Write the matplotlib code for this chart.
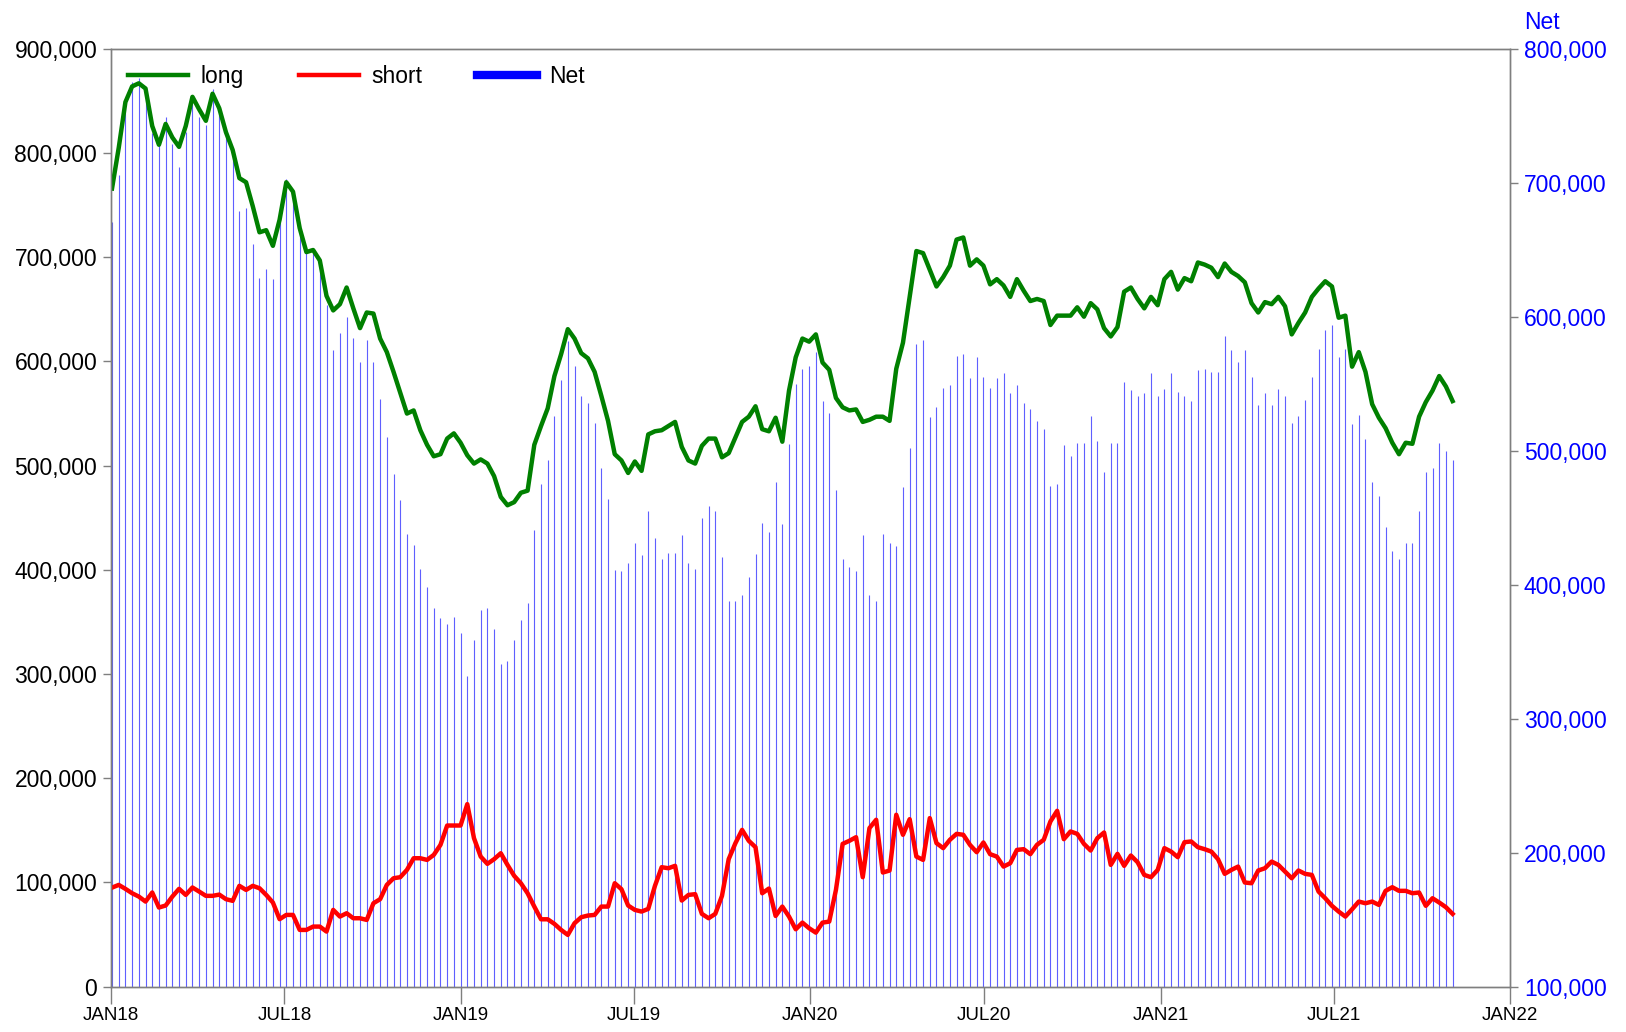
import matplotlib
matplotlib.use("Agg")
import matplotlib.pyplot as plt
import matplotlib.dates as mdates
from matplotlib.lines import Line2D
from matplotlib.ticker import FuncFormatter, FixedLocator
import numpy as np
import pandas as pd

plt.rcParams['font.family'] = ['Liberation Sans', 'DejaVu Sans']

# weekly report dates (Tuesdays)
start_date = "2018-01-02"
n_weeks = 201
dates = pd.date_range(start_date, periods=n_weeks, freq="7D")

# values in thousands of contracts
long_k = [
    766, 805, 849, 864, 867, 862, 826, 808, 828, 815,
    806, 826, 854, 842, 831, 857, 843, 820, 803, 776,
    772, 749, 724, 726, 711, 736, 772, 763, 728, 705,
    707, 697, 663, 649, 655, 671, 651, 632, 647, 646,
    622, 609, 590, 570, 550, 553, 534, 520, 509, 511,
    526, 531, 522, 510, 502, 506, 502, 490, 470, 462,
    465, 474, 476, 520, 538, 555, 586, 607, 631, 622,
    608, 603, 590, 567, 543, 511, 505, 493, 504, 495,
    530, 533, 534, 538, 542, 518, 505, 502, 519, 526,
    526, 508, 512, 527, 542, 547, 557, 535, 533, 546,
    523, 572, 604, 622, 619, 626, 599, 592, 565, 556,
    553, 554, 542, 544, 547, 547, 543, 593, 618, 662,
    706, 704, 688, 672, 681, 692, 717, 719, 692, 698,
    692, 674, 679, 673, 662, 679, 668, 658, 660, 658,
    635, 644, 644, 644, 652, 643, 656, 650, 632, 624,
    633, 667, 671, 660, 651, 662, 654, 679, 686, 669,
    680, 677, 695, 693, 690, 681, 694, 686, 682, 676,
    656, 647, 657, 655, 662, 653, 626, 637, 647, 662,
    670, 677, 672, 642, 644, 595, 609, 590, 559, 546,
    536, 522, 511, 522, 521, 547, 561, 572, 586, 576,
    562,
]

short_k = [
    95.0, 97.6, 93.8, 89.6, 86.4, 81.6, 90.3, 75.9, 77.8, 86.4,
    93.8, 88.0, 95.1, 91.2, 87.1, 87.1, 88.3, 83.9, 82.3, 96.7,
    92.8, 96.7, 94.4, 88.0, 80.7, 64.7, 68.8, 68.8, 54.4, 54.4,
    57.6, 57.6, 52.8, 73.6, 67.2, 70.4, 65.6, 65.6, 64.0, 80.0,
    83.9, 97.6, 104.0, 105.0, 112.0, 123.2, 123.2, 121.6, 126.4, 136.0,
    154.6, 154.6, 154.6, 175.1, 142.5, 124.8, 117.8, 122.3, 128.0, 116.8,
    106.3, 99.2, 89.6, 76.8, 64.6, 64.6, 60.2, 54.4, 49.6, 60.8,
    66.6, 68.2, 68.8, 76.8, 76.8, 99.2, 93.5, 77.8, 73.6, 72.0,
    74.6, 96.7, 114.6, 113.6, 115.9, 82.6, 88.0, 88.7, 69.8, 65.6,
    69.8, 87.1, 122.3, 137.6, 150.4, 139.9, 133.8, 89.6, 94.1, 67.8,
    76.8, 67.2, 55.0, 61.4, 56.0, 51.8, 61.4, 62.4, 92.8, 137.0,
    139.9, 143.4, 105.0, 152.1, 160.1, 109.5, 111.4, 164.9, 145.7, 160.7,
    124.8, 121.6, 161.7, 137.7, 132.9, 140.9, 146.6, 145.7, 136.0, 129.0,
    138.3, 127.1, 124.8, 115.2, 118.4, 131.2, 131.9, 127.1, 136.1, 140.9,
    158.5, 168.7, 141.5, 148.9, 146.6, 137.0, 130.6, 142.5, 147.9, 116.8,
    127.4, 115.9, 125.8, 119.4, 107.2, 105.0, 112.0, 132.9, 129.6, 124.2,
    138.6, 139.3, 133.8, 131.9, 129.6, 122.3, 108.2, 112.0, 115.2, 99.9,
    99.2, 111.4, 113.6, 120.0, 116.8, 110.4, 104.0, 111.4, 108.2, 107.2,
    91.2, 84.8, 77.5, 72.0, 67.2, 74.2, 81.6, 80.0, 81.6, 78.4,
    91.9, 95.4, 91.9, 91.9, 89.6, 90.3, 77.5, 84.8, 80.7, 76.2,
    69.8,
]

net_k = [
    671, 706, 755, 775, 778, 771, 737, 729, 749, 729,
    712, 738, 762, 749, 743, 770, 755, 737, 721, 679,
    681, 654, 629, 636, 628, 671, 703, 694, 668, 649,
    648, 640, 609, 575, 588, 600, 584, 566, 583, 566,
    539, 510, 483, 463, 438, 430, 412, 398, 383, 375,
    371, 376, 364, 332, 359, 381, 383, 367, 341, 343,
    359, 374, 386, 441, 475, 493, 526, 553, 582, 563,
    541, 536, 521, 487, 464, 411, 410, 416, 431, 422,
    455, 435, 419, 424, 424, 437, 416, 412, 450, 459,
    455, 421, 388, 388, 392, 406, 423, 446, 439, 477,
    445, 505, 550, 561, 563, 574, 537, 528, 471, 419,
    413, 410, 437, 392, 388, 438, 431, 429, 473, 502,
    580, 583, 525, 533, 547, 549, 571, 572, 554, 570,
    555, 547, 554, 558, 543, 549, 536, 531, 522, 516,
    474, 475, 504, 496, 506, 506, 526, 507, 484, 506,
    506, 551, 545, 541, 543, 558, 541, 546, 558, 544,
    541, 537, 560, 561, 559, 559, 586, 575, 566, 575,
    555, 534, 543, 534, 546, 541, 521, 526, 538, 555,
    576, 590, 594, 570, 576, 520, 527, 509, 477, 466,
    443, 425, 419, 431, 431, 455, 484, 487, 506, 500,
    493,
]

long_v = np.array(long_k) * 1000
short_v = np.array(short_k) * 1000
net_v = np.array(net_k) * 1000

left_ticks = [0, 100000, 200000, 300000, 400000, 500000, 600000, 700000, 800000, 900000]
right_ticks = [100000, 200000, 300000, 400000, 500000, 600000, 700000, 800000]
x_tick_dates = pd.date_range("2018-01-01", "2022-01-01", freq="6MS")

fig = plt.figure(figsize=(16.26, 10.32), dpi=100)
ax = fig.add_axes([0.0683, 0.044, 0.8604, 0.9086])
ax2 = ax.twinx()

frame_col = "#7f7f7f"

# Net bars (right axis)
ax2.vlines(dates, 100000, net_v, color="#4d4dff", linewidth=0.8, alpha=0.9)
ax2.set_ylim(100000, 800000)
ax2.yaxis.set_major_locator(FixedLocator(right_ticks))
ax2.yaxis.set_major_formatter(FuncFormatter(lambda v, p: f"{int(v):,}"))
ax2.tick_params(axis="y", colors="#0000ff", labelsize=16.5, length=6, width=1,
                direction="out", pad=4)
ax2.tick_params(axis="y", color=frame_col)

# long / short lines (left axis)
ax.set_zorder(ax2.get_zorder() + 1)
ax.patch.set_visible(False)
ax.plot(dates, long_v, color="#008000", linewidth=3.2, solid_joinstyle="round")
ax.plot(dates, short_v, color="#ff0000", linewidth=3.2, solid_joinstyle="round")
ax.set_ylim(0, 900000)
ax.yaxis.set_major_locator(FixedLocator(left_ticks))
ax.yaxis.set_major_formatter(FuncFormatter(lambda v, p: f"{int(v):,}"))
ax.tick_params(axis="y", labelsize=16.5, length=6, width=1, color=frame_col, pad=4)

ax.set_xlim(pd.Timestamp("2018-01-01"), pd.Timestamp("2022-01-01"))
ax.xaxis.set_major_locator(FixedLocator(mdates.date2num(x_tick_dates)))
ax.xaxis.set_major_formatter(FuncFormatter(lambda v, p: mdates.num2date(v).strftime("%b%y").upper()))
ax.tick_params(axis="x", labelsize=13.5, length=12, width=1, color=frame_col, pad=3)

for a in (ax, ax2):
    for s in a.spines.values():
        s.set_color(frame_col)
        s.set_linewidth(1.0)

# legend
handles = [
    Line2D([], [], color="#008000", linewidth=3.2),
    Line2D([], [], color="#ff0000", linewidth=3.2),
    Line2D([], [], color="#0000ff", linewidth=6.0),
]
ax.legend(handles, ["long", "short", "Net"], loc="upper left", ncol=3, frameon=False,
          fontsize=16.5, handlelength=2.6, handletextpad=0.55, columnspacing=2.4,
          bbox_to_anchor=(0.001, 1.0), borderaxespad=0.3)

fig.text(0.9375, 0.978, "Net", color="#0000ff", fontsize=16.5, ha="left", va="center")

fig.savefig("out.png", dpi=100)
